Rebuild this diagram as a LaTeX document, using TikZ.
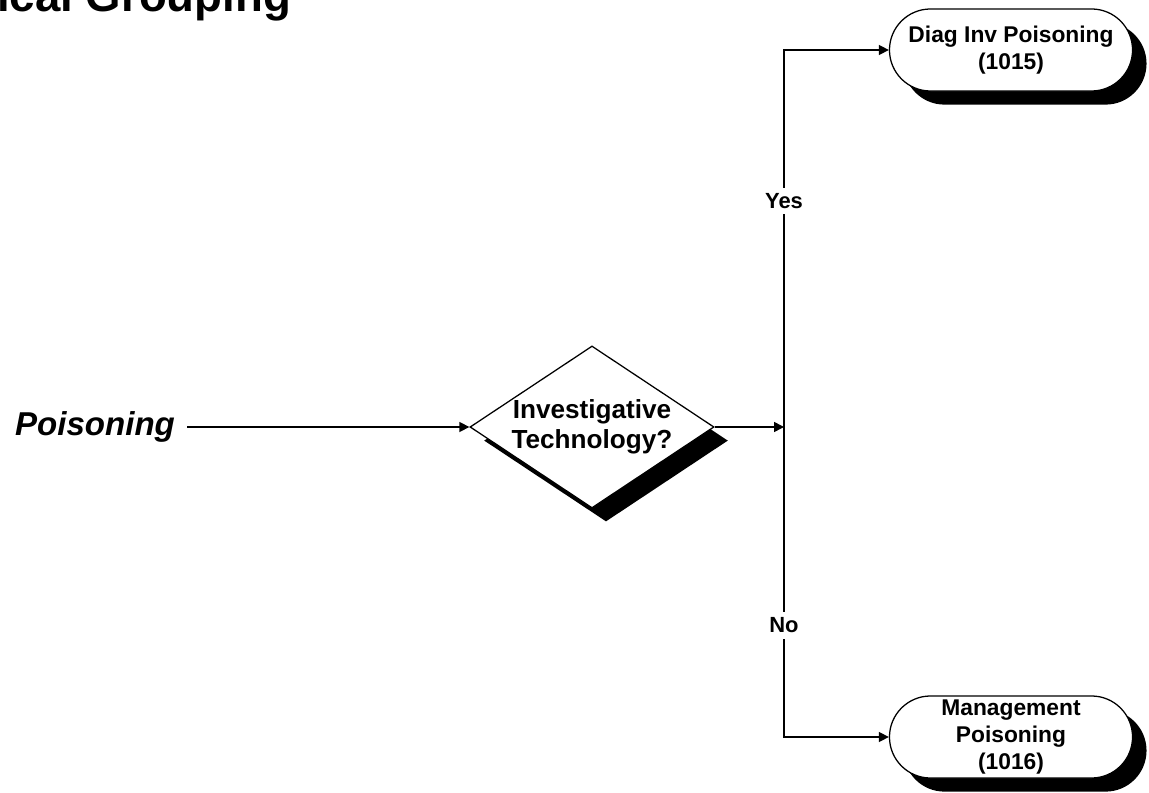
\documentclass[tikz,border=0pt]{standalone}
\usepackage{fontspec}
\setmainfont{Liberation Sans}
\usetikzlibrary{arrows.meta, shapes.geometric, shapes.misc, shadows}

\begin{document}
\begin{tikzpicture}[x=0.025cm, y=-0.025cm,
  flow/.style={-{Triangle[length=2.5mm, width=2.5mm]}, line width=1.1pt},
  solidshadow/.style={drop shadow={shadow xshift=0.35cm, shadow yshift=-0.34cm,
    fill=black, opacity=1}},
  question/.style={diamond, draw, fill=white, line width=0.9pt, aspect=1.5,
    inner sep=0pt, minimum width=6.1cm, minimum height=4.05cm, align=center,
    font=\fontsize{18.6}{21.3}\selectfont\bfseries, solidshadow},
  terminal/.style={rounded rectangle, draw, fill=white, line width=0.9pt,
    minimum width=6.075cm, minimum height=2.05cm, inner sep=0pt, align=center,
    font=\fontsize{16.2}{19}\selectfont\bfseries, solidshadow},
  answer/.style={fill=white, inner xsep=2pt, inner ysep=4pt,
    font=\fontsize{15.6}{18}\selectfont\bfseries}]
  \useasboundingbox (0,0) rectangle (1149,793);

  \node[anchor=base west, inner sep=0pt, font=\fontsize{32.4}{36}\selectfont\bfseries]
    (title) at (-3,12) {ical Grouping};
  \node[inner xsep=3mm, font=\fontsize{23.5}{28}\selectfont\bfseries\itshape]
    (poison) at (95,427) {Poisoning};
  \node[question] (ask) at (592,427) {Investigative\\Technology?};
  \coordinate (split) at (784,427);
  \node[terminal] (diag) at (1011,50) {Diag Inv Poisoning\\(1015)};
  \node[terminal] (mgmt) at (1011,737) {Management\\Poisoning\\(1016)};

  \draw[flow] (poison) -- (ask);
  \draw[flow] (ask) -- (split);
  \draw[flow] (split) |- node[answer, pos=0.3] {Yes} (diag);
  \draw[flow] (split) |- node[answer, pos=0.32] {No} (mgmt);
\end{tikzpicture}
\end{document}
